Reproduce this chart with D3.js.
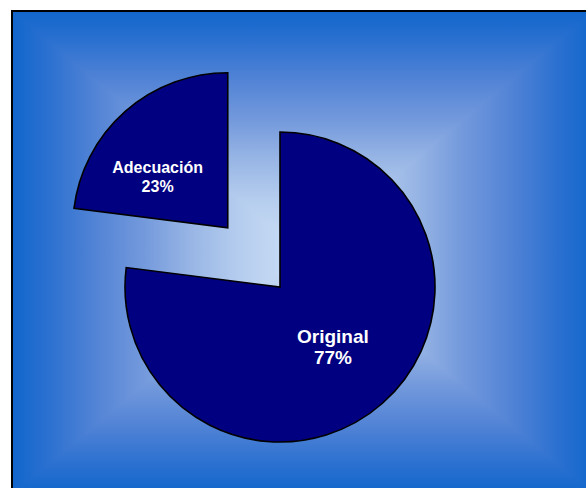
<!DOCTYPE html>
<html>
<head>
<meta charset="utf-8">
<script src="https://cdn.jsdelivr.net/npm/d3@7/dist/d3.min.js"></script>
<style>
  html, body { margin: 0; padding: 0; background: #ffffff; }
  svg { display: block; }
</style>
</head>
<body>
<svg id="chart" width="586" height="488"></svg>
<script>
// ---- data ----
const categories = ["Original", "Adecuación"];
const values = [77, 23];
const percentLabels = ["77%", "23%"];
const exploded = [false, true];

// ---- layout ----
const frame = { x0: 12, y0: 11, x1: 594, y1: 494 };
const cx = 280, cy = 287, R = 155;
const explodeDist = 79;

const svg = d3.select("#chart");
const defs = svg.append("defs");

// rectangular (path) gradient background
const fcx = (frame.x0 + frame.x1) / 2, fcy = (frame.y0 + frame.y1) / 2;
const stops = [
  [0, "#1166cc"], [0.12, "#2a70d0"], [0.3, "#5585d6"], [0.45, "#7399dc"],
  [0.6, "#95b3e4"], [0.78, "#b5cdee"], [1, "#cde0f5"]
];
function addGrad(id, x1, y1, x2, y2, mirrored) {
  const lg = defs.append("linearGradient").attr("id", id)
    .attr("gradientUnits", "userSpaceOnUse")
    .attr("x1", x1).attr("y1", y1).attr("x2", x2).attr("y2", y2);
  if (mirrored) {
    stops.forEach(st => lg.append("stop").attr("offset", st[0] / 2).attr("stop-color", st[1]));
    stops.slice().reverse().forEach(st => lg.append("stop").attr("offset", 1 - st[0] / 2).attr("stop-color", st[1]));
  } else {
    stops.forEach(st => lg.append("stop").attr("offset", st[0]).attr("stop-color", st[1]));
  }
}
// vertical (top/bottom) full-rect gradient as base
addGrad("gVert", fcx, frame.y0, fcx, frame.y1, true);
svg.append("rect")
  .attr("x", frame.x0).attr("y", frame.y0)
  .attr("width", frame.x1 - frame.x0).attr("height", frame.y1 - frame.y0)
  .attr("fill", "url(#gVert)");
// left / right triangles on top
addGrad("gLeft", frame.x0, fcy, fcx, fcy, false);
addGrad("gRight", frame.x1, fcy, fcx, fcy, false);
[
  { id: "gLeft", pts: [[frame.x0, frame.y0], [frame.x0, frame.y1], [fcx, fcy]] },
  { id: "gRight", pts: [[frame.x1, frame.y0], [frame.x1, frame.y1], [fcx, fcy]] }
].forEach(s => {
  svg.append("polygon")
    .attr("points", s.pts.map(p => p.join(",")).join(" "))
    .attr("fill", `url(#${s.id})`);
});
svg.append("rect")
  .attr("x", frame.x0).attr("y", frame.y0)
  .attr("width", frame.x1 - frame.x0).attr("height", frame.y1 - frame.y0)
  .attr("fill", "none").attr("stroke", "#000").attr("stroke-width", 2);

// ---- pie ----
const pie = d3.pie().sort(null).value(d => d.value);
const data = categories.map((c, i) => ({ name: c, value: values[i], pct: percentLabels[i], ex: exploded[i] }));
const arcs = pie(data);
const arc = d3.arc().innerRadius(0).outerRadius(R);

const g = svg.append("g").attr("transform", `translate(${cx},${cy})`);

function offsetOf(a) {
  if (!a.data.ex) return [0, 0];
  const m = (a.startAngle + a.endAngle) / 2;
  return [Math.sin(m) * explodeDist, -Math.cos(m) * explodeDist];
}

g.selectAll("path.slice").data(arcs).enter().append("path")
  .attr("class", "slice")
  .attr("transform", d => `translate(${offsetOf(d)})`)
  .attr("d", arc)
  .attr("fill", "#000080")
  .attr("stroke", "#000")
  .attr("stroke-width", 1.6)
  .attr("stroke-linejoin", "miter");

// ---- labels ----
const labelStyle = [
  { size: 19, gap: 21, r: 80, dAng: 0 },
  { size: 16, gap: 19, r: 87, dAng: -0.215 }
];
arcs.forEach((a, i) => {
  const st = labelStyle[i];
  const off = offsetOf(a);
  const m = (a.startAngle + a.endAngle) / 2 + st.dAng;
  const lx = off[0] + Math.sin(m) * st.r;
  const ly = off[1] - Math.cos(m) * st.r;
  const cap = st.size * 0.716;
  const firstBase = ly - st.gap / 2 + cap / 2;
  const t = g.append("text")
    .attr("text-anchor", "middle")
    .attr("font-family", "'Liberation Sans', Arial, sans-serif")
    .attr("font-weight", "bold")
    .attr("font-size", st.size)
    .attr("fill", "#ffffff");
  t.append("tspan").attr("x", lx).attr("y", firstBase).text(a.data.name);
  t.append("tspan").attr("x", lx).attr("y", firstBase + st.gap).text(a.data.pct);
});
</script>
</body>
</html>
